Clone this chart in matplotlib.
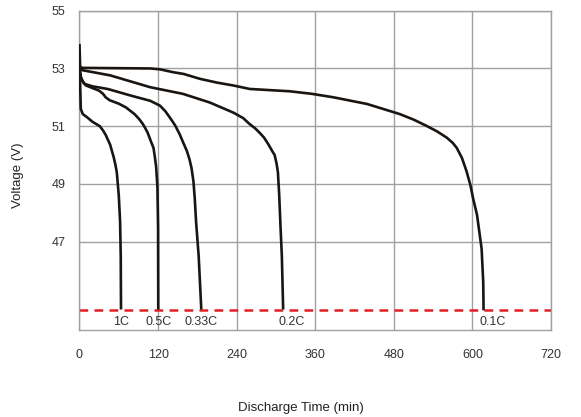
import matplotlib
matplotlib.use("Agg")
import matplotlib.pyplot as plt

plt.rcParams['font.family'] = ['Liberation Sans', 'DejaVu Sans']

# discharge curves, time in min, voltage in V
t_1c = [0, 1, 2, 5, 11, 20, 26, 31, 36, 40, 44, 47, 50, 52, 55, 57, 60, 62, 63, 63.4]
v_1c = [53.0, 52.5, 51.6, 51.42, 51.32, 51.15, 51.07, 51.0, 50.85, 50.7, 50.5, 50.35,
        50.1, 49.95, 49.65, 49.4, 48.6, 47.7, 46.5, 44.65]

t_05c = [0, 3, 10, 30, 36, 40, 46, 60, 71, 84, 91, 96, 100, 104, 107, 110, 113, 115,
         117, 119, 120, 120.3]
v_05c = [53.0, 52.6, 52.41, 52.23, 52.12, 52.0, 51.9, 51.78, 51.65, 51.42, 51.25, 51.1,
         50.95, 50.78, 50.6, 50.42, 50.25, 49.95, 49.6, 48.9, 47.5, 44.65]

t_033c = [0, 2, 7, 20, 43, 80, 108, 123, 131, 138, 146, 153, 159, 164, 168, 171, 174,
          176, 178, 182, 186]
v_033c = [53.0, 52.7, 52.47, 52.38, 52.29, 52.05, 51.88, 51.71, 51.52, 51.3, 51.03, 50.72,
          50.4, 50.14, 49.85, 49.56, 49.09, 48.5, 47.7, 46.5, 44.65]

t_02c = [0, 2, 47, 108, 158, 199, 235, 250, 260, 268, 276, 282, 289, 294, 298, 301, 303,
         305, 307, 309, 311]
v_02c = [53.0, 52.95, 52.76, 52.35, 52.12, 51.82, 51.47, 51.28, 51.07, 50.93, 50.75, 50.6,
         50.35, 50.15, 50.0, 49.7, 49.4, 48.6, 47.5, 46.5, 44.65]

t_01c = [0, 1, 5, 108, 123, 143, 159, 184, 210, 235, 260, 290, 321, 355, 388, 439, 489,
         510, 530, 546, 561, 570, 576, 584, 591, 597, 601, 607, 614, 616.5, 617]
v_01c = [53.85, 53.05, 53.02, 53.0, 52.97, 52.87, 52.81, 52.64, 52.51, 52.41, 52.29,
         52.25, 52.21, 52.12, 52.0, 51.77, 51.42, 51.23, 51.01, 50.82, 50.6, 50.42, 50.25,
         49.9, 49.44, 48.95, 48.5, 47.93, 46.76, 45.6, 44.62]

curves = [(t_1c, v_1c), (t_05c, v_05c), (t_033c, v_033c), (t_02c, v_02c), (t_01c, v_01c)]
rate_labels = ['1C', '0.5C', '0.33C', '0.2C', '0.1C']
label_t = [64, 121, 185, 324, 631]
cutoff = 44.65

x_ticks = [0, 120, 240, 360, 480, 600, 720]
y_ticks = [47, 49, 51, 53, 55]

fig = plt.figure(figsize=(5.81, 4.17), dpi=100)
ax = fig.add_axes([0.1368, 0.2086, 0.8116, 0.7657])

ax.set_xlim(0, 720)
ax.set_ylim(43.94, 55)
ax.set_xticks(x_ticks)
ax.set_yticks(y_ticks)
ax.grid(True, color='#a0a0a0', lw=1.0)
ax.set_axisbelow(True)
for s in ax.spines.values():
    s.set_color('#a0a0a0')
    s.set_linewidth(1.0)
ax.tick_params(length=0, labelsize=9, colors='#333333')
ax.tick_params(axis='x', pad=14)
ax.tick_params(axis='y', pad=10)

ax.axhline(cutoff, color='#e31e24', lw=1.8, ls=(0, (3.5, 2.5)), zorder=2)

for (t, v) in curves:
    ax.plot(t, v, color='#1a1511', lw=1.9, solid_joinstyle='round',
            solid_capstyle='butt', zorder=3)

for lab, lt in zip(rate_labels, label_t):
    ax.text(lt, 44.22, lab, ha='center', va='center', fontsize=9, color='#333333')

fig.text(301 / 581, 1 - 408 / 417, 'Discharge Time (min)', ha='center', va='center',
         fontsize=9.5, color='#222222')
fig.text(18 / 581, 1 - 175 / 417, 'Voltage (V)', ha='center', va='center',
         rotation=90, fontsize=9.5, color='#222222')

fig.savefig('out.png', dpi=100)
